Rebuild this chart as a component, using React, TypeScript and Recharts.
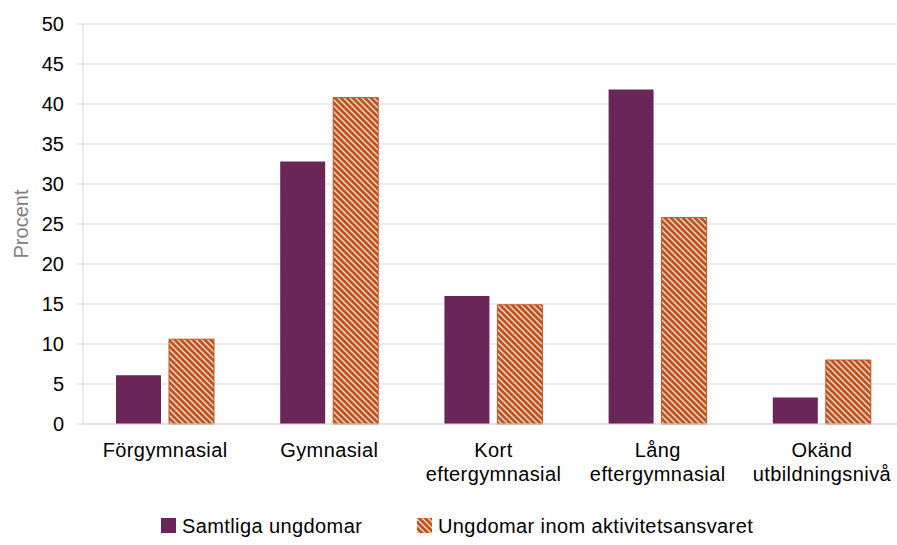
import { Bar, BarChart, CartesianGrid, Legend, XAxis, YAxis } from "recharts";

const PURPLE = "#6A2659";
const ORANGE = "#C3521F";

const categories = [
  "Förgymnasial",
  "Gymnasial",
  "Kort\neftergymnasial",
  "Lång\neftergymnasial",
  "Okänd\nutbildningsnivå",
];
const samtliga = [6.1, 32.8, 16.0, 41.8, 3.3];
const aktivitet = [10.6, 40.8, 14.9, 25.8, 8.0];
const yTicks = [0, 5, 10, 15, 20, 25, 30, 35, 40, 45, 50];

const seriesNames = ["Samtliga ungdomar", "Ungdomar inom aktivitetsansvaret"];

const data = categories.map((c, i) => ({
  name: c,
  samtliga: samtliga[i],
  aktivitet: aktivitet[i],
}));

const FONT = "Liberation Sans, Arial, sans-serif";

function Hatch({ id }: { id: string }) {
  return (
    <pattern id={id} patternUnits="userSpaceOnUse" width="6" height="6">
      <rect width="6" height="6" fill={ORANGE} />
      <path d="M0,0 L6,6 M-1,5 L1,7 M5,-1 L7,1" stroke="#f7dccd" strokeWidth="1.4" />
    </pattern>
  );
}

function CategoryTick(props: any) {
  const { x, y, payload } = props;
  const lines = String(payload.value).split("\n");
  return (
    <text
      x={x}
      y={y + 25}
      textAnchor="middle"
      fill="#000"
      fontSize={20}
      letterSpacing={0.4}
      fontFamily={FONT}
    >
      {lines.map((l, i) => (
        <tspan key={i} x={x} dy={i === 0 ? 0 : 24}>
          {l}
        </tspan>
      ))}
    </text>
  );
}

function LegendContent() {
  return (
    <div style={{ position: "relative", height: 40 }}>
      <svg width={897} height={40} style={{ position: "absolute", left: 0, top: 0 }}>
        <defs>
          <Hatch id="hatchLegend" />
        </defs>
        <rect x={160} y={13} width={15} height={15} fill={PURPLE} />
        <text x={181} y={28} fontSize={20} letterSpacing={0.4} fontFamily={FONT} fill="#000">
          {seriesNames[0]}
        </text>
        <rect x={416} y={13} width={15} height={15} fill="url(#hatchLegend)" />
        <text x={437} y={28} fontSize={20} letterSpacing={0.4} fontFamily={FONT} fill="#000">
          {seriesNames[1]}
        </text>
      </svg>
    </div>
  );
}

export default function App() {
  return (
    <div
      style={{
        position: "absolute",
        left: 0,
        top: 0,
        width: 897,
        height: 545,
        overflow: "hidden",
        background: "#fff",
      }}
    >
      <BarChart
        width={904}
        height={545}
        data={data}
        margin={{ top: 24, right: 0, bottom: 0, left: 1 }}
        barSize={45}
        barGap={8}
      >
        <defs>
          <Hatch id="hatch" />
        </defs>
        <CartesianGrid vertical={false} stroke="#d9d9d9" />
        <XAxis
          dataKey="name"
          interval={0}
          tick={<CategoryTick />}
          tickLine={false}
          axisLine={{ stroke: "#d9d9d9" }}
          height={81}
        />
        <YAxis
          domain={[0, 50]}
          ticks={yTicks}
          interval={0}
          width={82}
          tick={{ fontSize: 20, fill: "#000", fontFamily: FONT }}
          tickLine={{ stroke: "#d9d9d9" }}
          tickSize={6}
          tickMargin={13}
          axisLine={{ stroke: "#d9d9d9" }}
          label={{
            value: "Procent",
            angle: -90,
            position: "insideLeft",
            offset: 20,
            style: { fontSize: 20, fill: "#7f7f7f", fontFamily: FONT, textAnchor: "middle" },
          }}
        />
        <Legend verticalAlign="bottom" height={40} content={<LegendContent />} />
        <Bar dataKey="samtliga" name={seriesNames[0]} fill={PURPLE} isAnimationActive={false} />
        <Bar
          dataKey="aktivitet"
          name={seriesNames[1]}
          fill="url(#hatch)"
          stroke={ORANGE}
          strokeWidth={1}
          isAnimationActive={false}
        />
      </BarChart>
    </div>
  );
}
